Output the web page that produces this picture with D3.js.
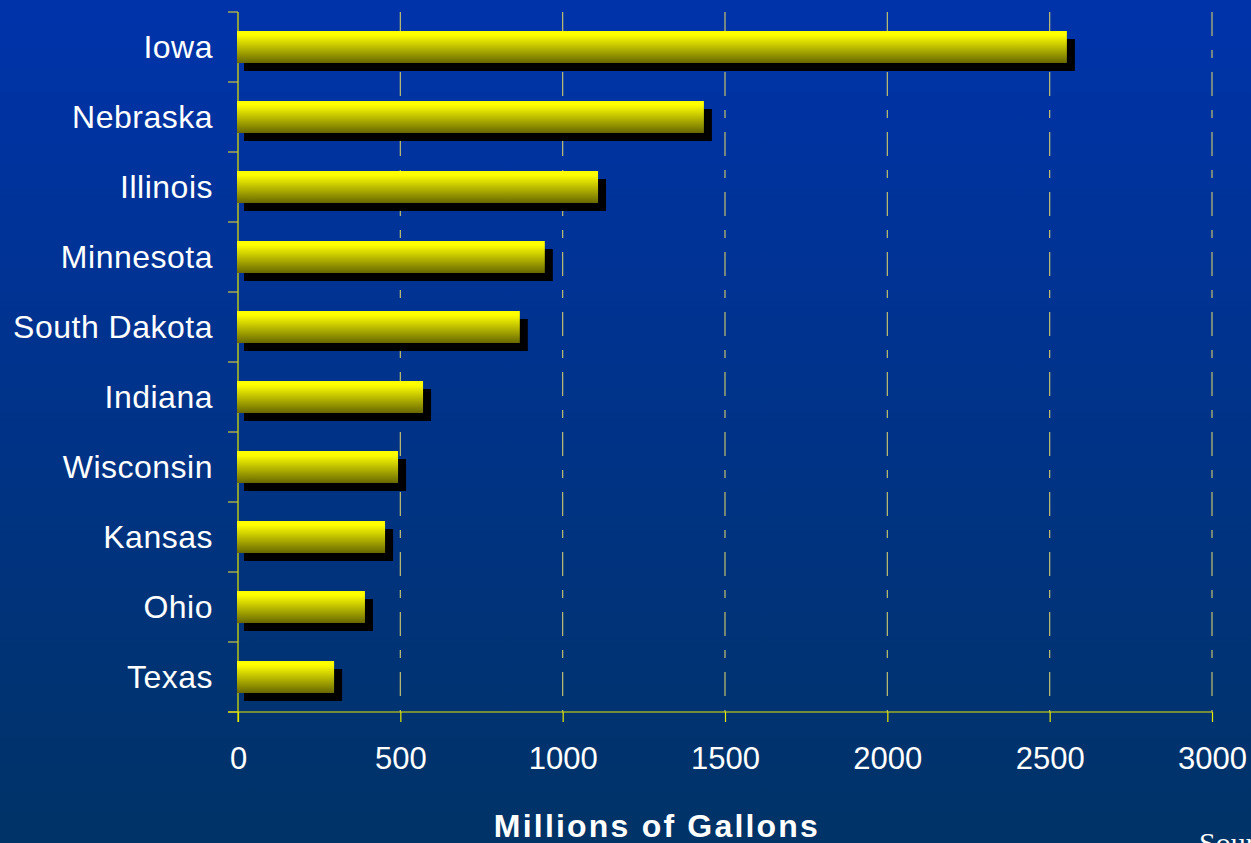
<!DOCTYPE html>
<html>
<head>
<meta charset="utf-8">
<script src="https://cdn.jsdelivr.net/npm/d3@7"></script>
<style>
  html, body { margin: 0; padding: 0; background: #003366; overflow: hidden; }
  svg { display: block; }
</style>
</head>
<body>
<script>
const states = ["Iowa", "Nebraska", "Illinois", "Minnesota", "South Dakota", "Indiana", "Wisconsin", "Kansas", "Ohio", "Texas"];
const gallons = [2553, 1435, 1109, 945, 868, 570, 493, 453, 391, 296];
const xTicks = [0, 500, 1000, 1500, 2000, 2500, 3000];
const axisTitle = "Millions of Gallons";
const sourceText = "Source: Renewable Fuels Association";

(function () {
const W = 1251, H = 843;
const svg = d3.select("body").append("svg").attr("width", W).attr("height", H);
const defs = svg.append("defs");

const bg = defs.append("linearGradient").attr("id", "bg").attr("x1", 0).attr("y1", 0).attr("x2", 0).attr("y2", 1);
bg.append("stop").attr("offset", "0%").attr("stop-color", "#0033aa");
bg.append("stop").attr("offset", "100%").attr("stop-color", "#003366");

const barG = defs.append("linearGradient").attr("id", "barG").attr("x1", 0).attr("y1", 0).attr("x2", 0).attr("y2", 1);
barG.append("stop").attr("offset", "0%").attr("stop-color", "#ffff00");
barG.append("stop").attr("offset", "12%").attr("stop-color", "#ffff00");
barG.append("stop").attr("offset", "100%").attr("stop-color", "#686800");

svg.append("rect").attr("width", W).attr("height", H).attr("fill", "url(#bg)");

const pLeft = 238, pRight = 1212, pTop = 12, pBottom = 712;
const x = d3.scaleLinear().domain([0, 3000]).range([pLeft, pRight]);
const y = d3.scaleBand().domain(states).range([pTop, pBottom]).paddingInner(0.543).paddingOuter(0.2715);

// gridlines
svg.append("g").selectAll("line").data(xTicks.filter(d => d > 0)).join("line")
  .attr("x1", d => x(d)).attr("x2", d => x(d))
  .attr("y1", pTop).attr("y2", pBottom)
  .attr("stroke", "#c0c070").attr("stroke-width", 1.2)
  .attr("stroke-dasharray", "24,14,8,14");

// y axis (band boundaries ticks)
const bandEdges = d3.range(states.length + 1).map(i => pTop + i * (pBottom - pTop) / states.length);
svg.append("line").attr("x1", pLeft).attr("x2", pLeft).attr("y1", pTop).attr("y2", pBottom + 10)
  .attr("stroke", "#e8e800").attr("stroke-width", 1.2);
svg.append("g").selectAll("line").data(bandEdges).join("line")
  .attr("x1", pLeft - 10).attr("x2", pLeft).attr("y1", d => d).attr("y2", d => d)
  .attr("stroke", "#c8c840").attr("stroke-width", 1.2);

// shadows
svg.append("g").selectAll("rect").data(states).join("rect")
  .attr("x", x(0) + 6)
  .attr("y", d => y(d) + 8)
  .attr("width", (d, i) => x(gallons[i]) - x(0) + 2)
  .attr("height", y.bandwidth())
  .attr("fill", "#000");

// bars
svg.append("g").selectAll("rect").data(states).join("rect")
  .attr("x", x(0) - 1)
  .attr("y", d => y(d))
  .attr("width", (d, i) => x(gallons[i]) - x(0) + 1)
  .attr("height", y.bandwidth())
  .attr("fill", "url(#barG)");

// x axis
const xAxis = d3.axisBottom(x).tickValues(xTicks).tickSize(10).tickPadding(25).tickFormat(d3.format("d"));
const gx = svg.append("g").attr("transform", `translate(0,${pBottom})`).call(xAxis);
gx.select(".domain").remove();
gx.append("line").attr("x1", pLeft - 10).attr("x2", pRight).attr("y1", 0).attr("y2", 0)
  .attr("stroke", "#e8e800").attr("stroke-width", 1.2);
gx.selectAll(".tick line").attr("stroke", "#e8e800").attr("stroke-width", 1.2);
gx.selectAll(".tick text").attr("fill", "#ffffff")
  .style("font-family", "'Liberation Sans', Arial, sans-serif").style("font-size", "31px");

// category labels
svg.append("g").selectAll("text").data(states).join("text")
  .attr("x", 213)
  .attr("y", d => y(d) + y.bandwidth() / 2)
  .attr("dy", "0.34em")
  .attr("text-anchor", "end")
  .attr("fill", "#ffffff")
  .style("font-family", "'Liberation Sans', Arial, sans-serif")
  .style("font-size", "32px")
  .style("letter-spacing", "0.5px")
  .text(d => d);

// axis title
svg.append("text").attr("x", 657).attr("y", 837).attr("text-anchor", "middle")
  .attr("fill", "#ffffff")
  .style("font-family", "'Liberation Sans', Arial, sans-serif")
  .style("font-size", "32px").style("font-weight", "bold").style("letter-spacing", "2.2px")
  .text(axisTitle);

// source note, cut off at the lower right edge as in the original slide
svg.append("text").attr("x", 1199).attr("y", 853)
  .attr("fill", "#ffffff")
  .style("font-family", "'Liberation Serif', 'Times New Roman', serif")
  .style("font-size", "30px")
  .text(sourceText);
})();
</script>
</body>
</html>
